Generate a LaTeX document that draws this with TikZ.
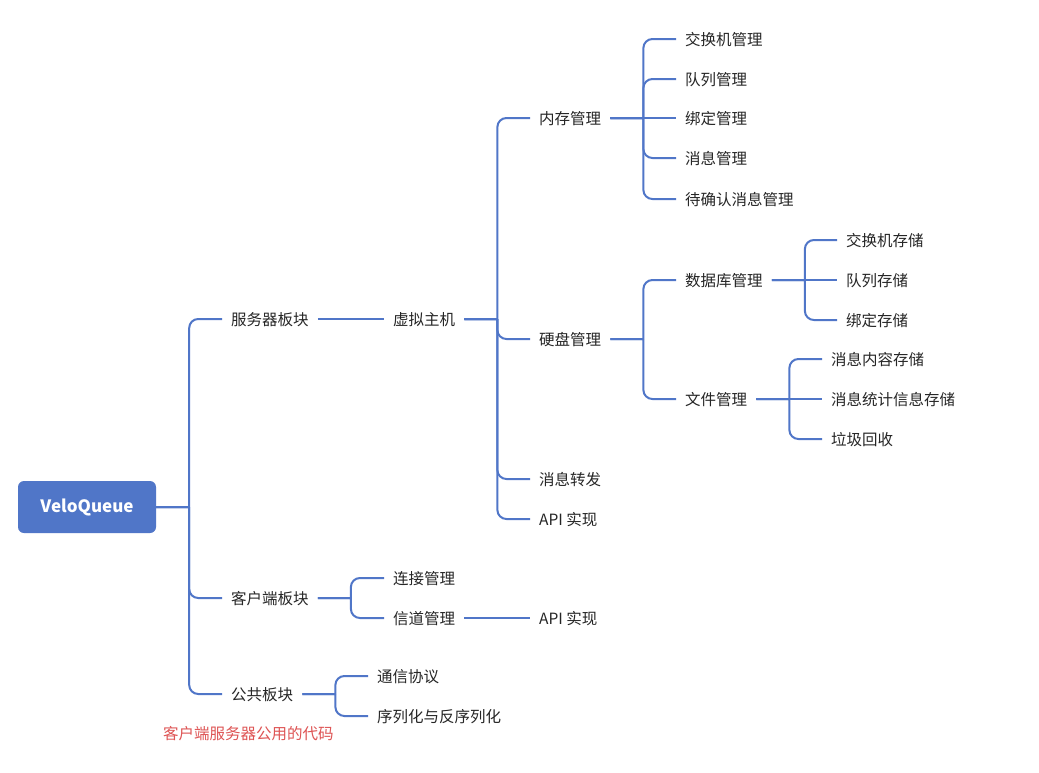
\documentclass[tikz,border=0pt]{standalone}
\usepackage{fontspec}
\setmainfont{Noto Sans CJK SC}
\definecolor{mapblue}{RGB}{80,118,200}
\definecolor{notered}{RGB}{222,84,84}
\definecolor{textgray}{RGB}{38,38,38}
\usetikzlibrary{calc}

\begin{document}
\begin{tikzpicture}[x=1pt, y=-1pt,
    topic/.style={anchor=west, inner xsep=9pt, inner ysep=0pt, text=textgray,
      font=\fontsize{15.5}{18}\selectfont, text height=14pt, text depth=2pt},
    rootbox/.style={fill=mapblue, text=white, rounded corners=6pt,
      minimum width=138pt, minimum height=52pt, font=\fontsize{17}{20}\selectfont\bfseries},
    link/.style={draw=mapblue, line width=2pt, rounded corners=9pt},
    note/.style={anchor=west, inner sep=0pt, text=notered,
      font=\fontsize{15.5}{18}\selectfont, text height=14pt, text depth=2pt},
  ]
    \fill[white] (0,0) rectangle (1039,772);
    \useasboundingbox (0,0) rectangle (1039,772);

    \node[rootbox] (root) at (87,507) {VeloQueue};

    % first level
    \node[topic] (srv) at (222,319) {服务器板块};
    \node[topic] (cli) at (222,598) {客户端板块};
    \node[topic] (com) at (222,694) {公共板块};

    % server
    \node[topic] (vhost) at (384,319) {虚拟主机};
    \node[topic] (mem) at (530,118) {内存管理};
    \node[topic] (disk) at (530,339) {硬盘管理};
    \node[topic] (fwd) at (530,479) {消息转发};
    \node[topic] (api) at (530,519) {API 实现};

    \node[topic] (m1) at (676,39) {交换机管理};
    \node[topic] (m2) at (676,79) {队列管理};
    \node[topic] (m3) at (676,118) {绑定管理};
    \node[topic] (m4) at (676,158) {消息管理};
    \node[topic] (m5) at (676,199) {待确认消息管理};

    \node[topic] (db) at (676,280) {数据库管理};
    \node[topic] (file) at (676,399) {文件管理};

    \node[topic] (d1) at (837,240) {交换机存储};
    \node[topic] (d2) at (837,280) {队列存储};
    \node[topic] (d3) at (837,320) {绑定存储};

    \node[topic] (f1) at (822,359) {消息内容存储};
    \node[topic] (f2) at (822,399) {消息统计信息存储};
    \node[topic] (f3) at (822,439) {垃圾回收};

    % client
    \node[topic] (conn) at (384,578) {连接管理};
    \node[topic] (chan) at (384,618) {信道管理};
    \node[topic] (capi) at (530,618) {API 实现};

    % common
    \node[topic] (proto) at (368,676) {通信协议};
    \node[topic] (ser) at (368,716) {序列化与反序列化};
    \node[note] (remark) at (163,733) {客户端服务器公用的代码};

    % bent connectors
    \foreach \p/\c in {root/srv, root/cli, root/com,
        vhost/mem, vhost/disk, vhost/fwd, vhost/api,
        mem/m1, mem/m2, mem/m4, mem/m5,
        disk/db, disk/file, db/d1, db/d3, file/f1, file/f3,
        cli/conn, cli/chan, com/proto, com/ser}
      \draw[link] (\p.east) -- ++(33,0) coordinate (jn) (jn) |- (\c.west);
    % straight connectors
    \foreach \p/\c in {srv/vhost, mem/m3, db/d2, file/f2, chan/capi}
      \draw[link] (\p.east) -- (\c.west);
  \end{tikzpicture}
\end{document}
